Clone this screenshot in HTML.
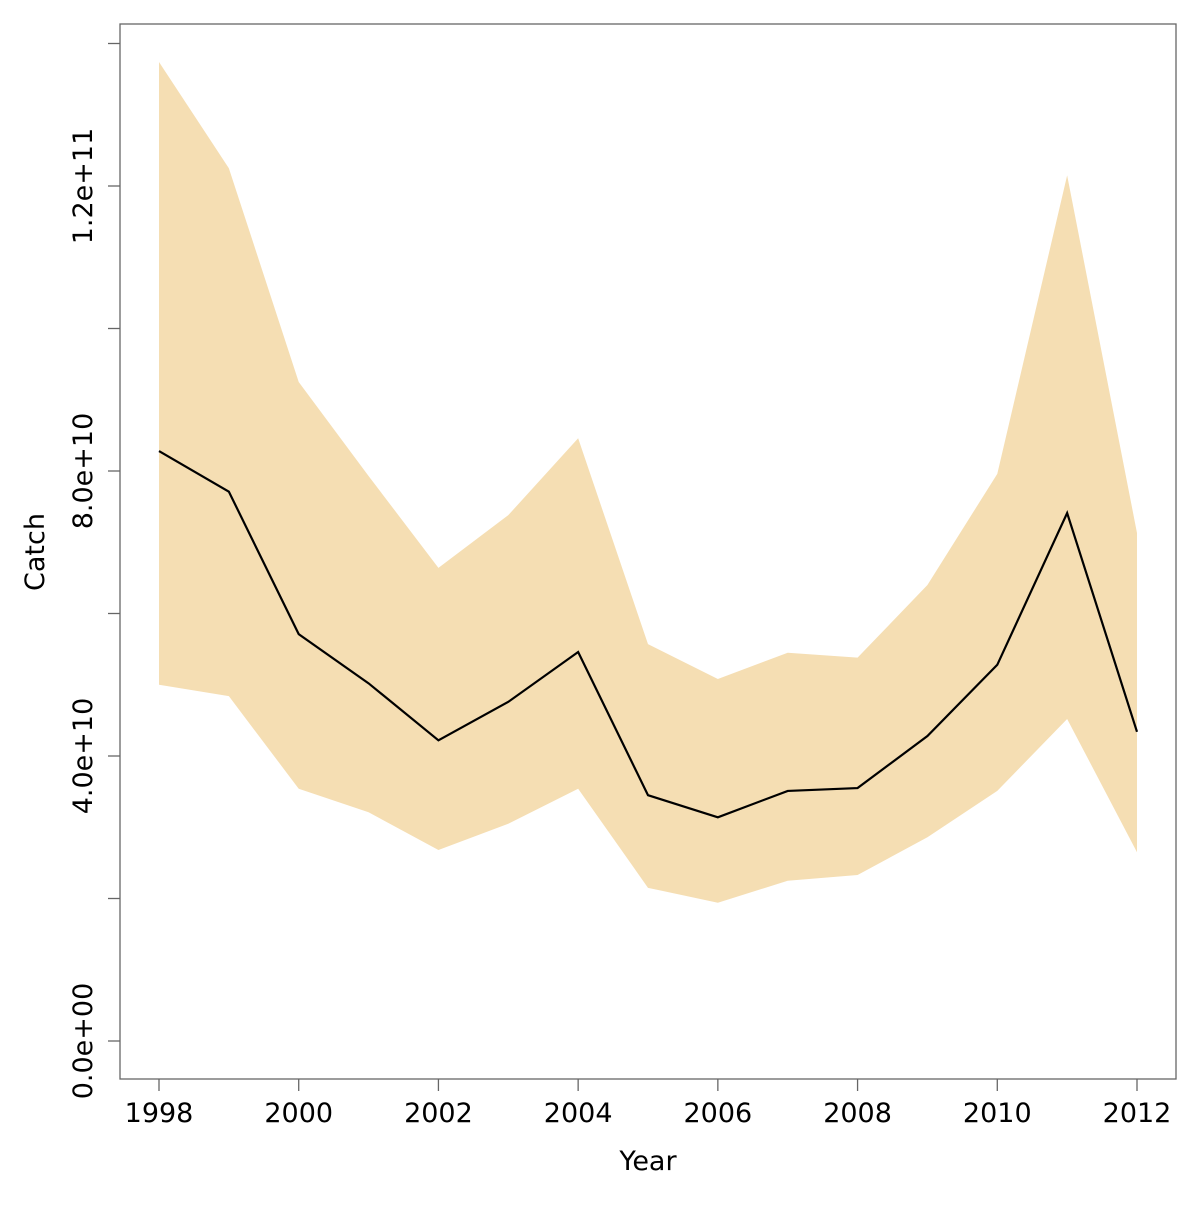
<!DOCTYPE html>
<html><head><meta charset="utf-8"><style>
body{margin:0;background:#fff}
svg text{font-family:"DejaVu Sans","Liberation Sans",sans-serif;fill:#000}
</style></head><body>
<svg id="chart" width="1200" height="1200" xmlns="http://www.w3.org/2000/svg">
<g id="plot"></g>
</svg>
<script>
const years=[1998,1999,2000,2001,2002,2003,2004,2005,2006,2007,2008,2009,2010,2011,2012];
const catchMid=[8.28,7.71,5.71,5.02,4.22,4.76,5.46,3.45,3.14,3.51,3.55,4.28,5.28,7.41,4.34];
const catchUpper=[13.74,12.25,9.25,7.93,6.64,7.38,8.46,5.57,5.08,5.45,5.38,6.40,7.96,12.15,7.13];
const catchLower=[5.00,4.84,3.54,3.21,2.68,3.05,3.54,2.15,1.94,2.25,2.33,2.86,3.51,4.52,2.65];
const xTicks=[1998,2000,2002,2004,2006,2008,2010,2012];
const yTicks=[0,2,4,6,8,10,12,14];
const yLabels=["0.0e+00","4.0e+10","8.0e+10","1.2e+11"];
const yLabelVals=[0,4,8,12];

const NS="http://www.w3.org/2000/svg";
const g=document.getElementById('plot');
const sx=v=>159+(v-1998)*(978/14);
const sy=v=>1041-v*71.25;
function mk(t,a){const e=document.createElementNS(NS,t);for(const k in a)e.setAttribute(k,a[k]);g.appendChild(e);return e;}

let pts=years.map((y,i)=>sx(y)+','+sy(catchUpper[i]));
pts=pts.concat(years.map((y,i)=>sx(y)+','+sy(catchLower[i])).reverse());
const band=mk('polygon',{points:pts.join(' '),fill:'#F5DEB3'});



const line=mk('polyline',{points:years.map((y,i)=>sx(y)+','+sy(catchMid[i])).join(' '),fill:'none',stroke:'#000','stroke-width':2.2});



const box=mk('rect',{x:120,y:24,width:1056,height:1055,fill:'none',stroke:'#666','stroke-width':1.3});



xTicks.forEach(v=>{
  const t=mk('line',{x1:sx(v),x2:sx(v),y1:1079,y2:1091,stroke:'#666','stroke-width':1.3});
  
  
  const l=mk('text',{x:sx(v),y:1122,'text-anchor':'middle','font-size':27});
  l.textContent=v;
  
  
});
yTicks.forEach(v=>{
  const t=mk('line',{x1:108,x2:120,y1:sy(v),y2:sy(v),stroke:'#666','stroke-width':1.3});
  
  
});
yLabelVals.forEach((v,i)=>{
  const l=mk('text',{x:92,y:sy(v),'text-anchor':'middle','font-size':27,transform:`rotate(-90 92 ${sy(v)})`});
  l.textContent=yLabels[i];
  
  
});
const xt=mk('text',{x:648,y:1170,'text-anchor':'middle','font-size':27});
xt.textContent='Year';


const yt=mk('text',{x:44,y:552,'text-anchor':'middle','font-size':27,transform:'rotate(-90 44 552)'});
yt.textContent='Catch';


</script>
</body></html>
